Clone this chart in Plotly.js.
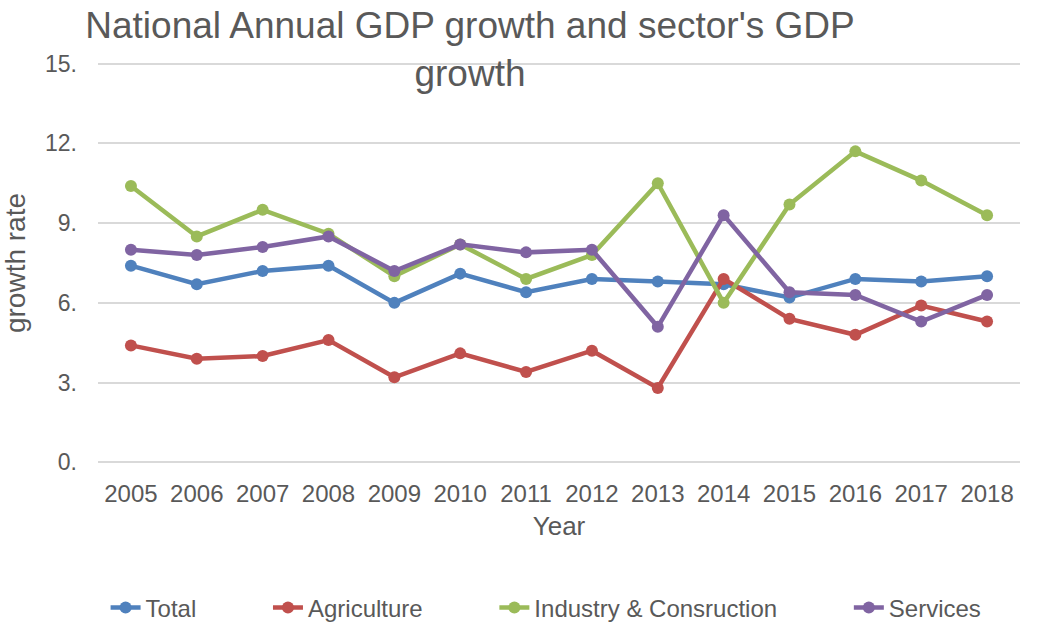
<!DOCTYPE html>
<html>
<head>
<meta charset="utf-8">
<script src="https://cdn.plot.ly/plotly-3.0.1.min.js"></script>
<style>
html,body{margin:0;padding:0;background:#fff;}
#chart{width:1043px;height:626px;outline:2px solid #d9d9d9;outline-offset:-2px;}
</style>
</head>
<body>
<div id="chart"></div>
<script>
const years = ["2005","2006","2007","2008","2009","2010","2011","2012","2013","2014","2015","2016","2017","2018"];
const total = [7.4,6.7,7.2,7.4,6.0,7.1,6.4,6.9,6.8,6.7,6.2,6.9,6.8,7.0];
const agriculture = [4.4,3.9,4.0,4.6,3.2,4.1,3.4,4.2,2.8,6.9,5.4,4.8,5.9,5.3];
const industry = [10.4,8.5,9.5,8.6,7.0,8.2,6.9,7.8,10.5,6.0,9.7,11.7,10.6,9.3];
const services = [8.0,7.8,8.1,8.5,7.2,8.2,7.9,8.0,5.1,9.3,6.4,6.3,5.3,6.3];
const yTickVals = [0,3,6,9,12,15];
const yTickText = ["0.","3.","6.","9.","12.","15."];
const seriesNames = ["Total","Agriculture","Industry & Consruction","Services"];

const FONT = "Liberation Sans, Arial, sans-serif";
const GREY = "#595959";
const sp = n => "\u00a0".repeat(n);

function mk(name, y, color, pad){
  return {
    type:"scatter", mode:"lines+markers", name:name + pad, x:years, y:y,
    line:{color:color, width:4.5},
    marker:{color:color, size:12, symbol:"circle"}
  };
}
const data = [
  mk(seriesNames[0], total, "#4f81bd", sp(10)),
  mk(seriesNames[1], agriculture, "#c0504d", sp(10)),
  mk(seriesNames[2], industry, "#9bbb59", sp(10)),
  mk(seriesNames[3], services, "#8064a2", "")
];

const layout = {
  width:1043, height:626,
  margin:{l:98, r:23, t:61, b:161},
  paper_bgcolor:"#ffffff", plot_bgcolor:"#ffffff",
  font:{family:FONT, color:GREY, size:22},
  title:{
    text:"National Annual GDP growth and sector's GDP<br>growth",
    font:{family:FONT, size:37, color:GREY},
    x:0.4506, xref:"container", xanchor:"center",
    y:0.939, yref:"container", yanchor:"top"
  },
  xaxis:{
    type:"category",
    range:[-0.5,13.5],
    automargin:false,
    showgrid:false, zeroline:false, showline:false,
    ticks:"", ticklabelstandoff:12,
    tickfont:{family:FONT, size:24, color:GREY},
    title:{text:"Year", font:{family:FONT, size:26, color:GREY}, standoff:10}
  },
  yaxis:{
    range:[-0.1,15.1],
    automargin:false,
    tickvals:yTickVals, ticktext:yTickText,
    showgrid:true, gridcolor:"#d9d9d9", gridwidth:2,
    zeroline:false, showline:false,
    ticks:"", ticklabelstandoff:20,
    tickfont:{family:FONT, size:23, color:GREY},
    title:{text:"growth rate", font:{family:FONT, size:28, color:GREY}, standoff:16}
  },
  showlegend:true,
  legend:{
    orientation:"h",
    x:0.486, xanchor:"center",
    y:0.029, yref:"container", yanchor:"middle",
    font:{family:FONT, size:24, color:GREY},
    bgcolor:"rgba(0,0,0,0)"
  }
};

Plotly.newPlot("chart", data, layout, {displayModeBar:false, staticPlot:true});
</script>
</body>
</html>
